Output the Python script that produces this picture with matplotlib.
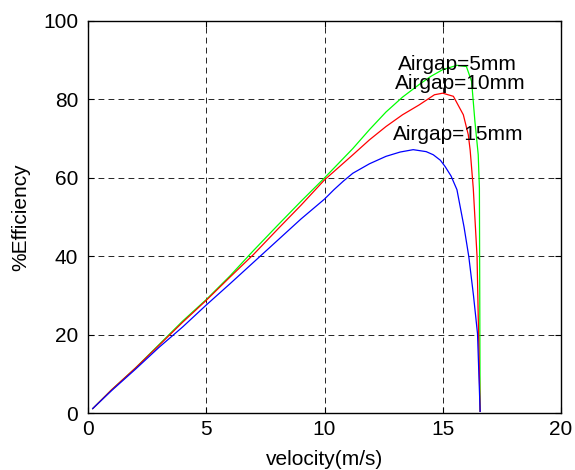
import numpy as np
import matplotlib
matplotlib.use("Agg")
import matplotlib.pyplot as plt

plt.rcParams['font.family'] = ['Liberation Sans', 'DejaVu Sans']

# airgap = 5 mm
v_5mm = [0.2, 1, 2, 3, 4, 5, 6, 7, 8, 9, 10, 11.2, 11.9, 12.6, 13.3, 14.0, 14.5, 15.0,
         15.6, 16.0, 16.22, 16.36, 16.5, 16.55, 16.58]
eff_5mm = [1.2, 6, 11.5, 17.5, 23.5, 29, 35, 41.5, 47.8, 54, 60, 67.5, 72.3, 76.8, 80.6,
           83.8, 85.9, 87.6, 88.7, 88.4, 84.6, 74.4, 65.9, 57.4, 0.5]

# airgap = 10 mm
v_10mm = [0.2, 1, 2, 3, 4, 5, 6, 7, 8, 9, 10, 11.2, 11.9, 12.6, 13.3, 14.0, 14.65, 15.0,
          15.45, 15.87, 16.08, 16.16, 16.29, 16.45, 16.58]
eff_10mm = [1.2, 6, 11.5, 17.3, 23.2, 28.8, 34.7, 40.5, 46.8, 53, 59.5, 65.9, 69.7, 73.1,
            76.1, 78.6, 81.2, 81.6, 80.8, 76.1, 71, 67, 57.4, 40, 0.5]

# airgap = 15 mm
v_15mm = [0.2, 1, 2, 3, 4, 5, 6, 7, 8, 9, 10, 10.4, 10.8, 11.2, 11.9, 12.6, 13.2, 13.75,
          14.3, 14.6, 14.9, 15.1, 15.35, 15.6, 15.9, 16.1, 16.3, 16.47, 16.58]
eff_15mm = [1.2, 5.8, 11.2, 16.8, 22, 27.6, 33, 38.5, 44, 49.5, 54.6, 57, 59.2, 61.2,
            63.6, 65.5, 66.6, 67.2, 66.7, 65.9, 64.5, 62.9, 60.5, 57, 47.5, 40, 30, 20.3, 0.5]

x_ticks = [0, 5, 10, 15, 20]
y_ticks = [0, 20, 40, 60, 80, 100]

fig = plt.figure(figsize=(5.75, 4.7), dpi=100)
ax = fig.add_axes([88 / 575, 1 - 413.3 / 470, (561 - 88) / 575, (413.3 - 21) / 470])

ax.plot(v_5mm, eff_5mm, color=(0, 1, 0), lw=0.9)
ax.plot(v_10mm, eff_10mm, color=(1, 0, 0), lw=0.9)
ax.plot(v_15mm, eff_15mm, color=(0, 0, 1), lw=0.9)

fs = 15
ax.text(15.6, 87.6, 'Airgap=5mm', ha='center', va='baseline', fontsize=fs)
ax.text(15.73, 82.7, 'Airgap=10mm', ha='center', va='baseline', fontsize=fs)
ax.text(15.66, 69.7, 'Airgap=15mm', ha='center', va='baseline', fontsize=fs)

ax.set_xlim(0, 20)
ax.set_ylim(0, 100)
ax.set_xticks(x_ticks)
ax.set_yticks(y_ticks)
ax.tick_params(direction='in', length=4, labelsize=fs, top=True, right=True,
               labeltop=False, labelright=False)
ax.tick_params(axis='x', pad=5)
ax.tick_params(axis='y', pad=7)
ax.grid(True, color='black', linestyle=(0, (7, 5)), linewidth=0.6)
for s in ax.spines.values():
    s.set_linewidth(1.0)

ax.set_xlabel('velocity(m/s)', fontsize=fs, labelpad=8)
ax.set_ylabel('%Efficiency', fontsize=fs, labelpad=9)

fig.savefig('out.png', dpi=100)
